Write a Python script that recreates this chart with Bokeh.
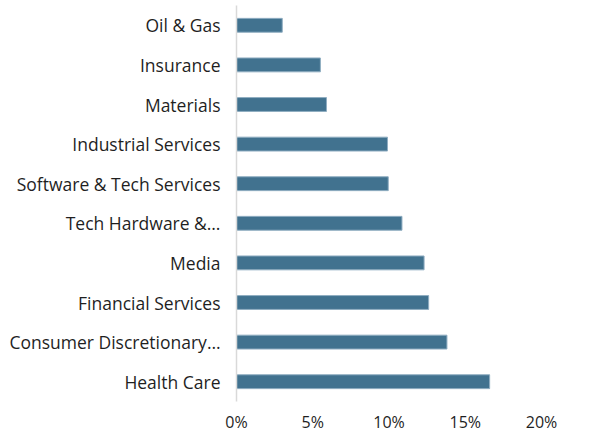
from bokeh.plotting import figure
from bokeh.models import ColumnDataSource, FixedTicker, Range1d
from bokeh.embed import file_html
from bokeh.resources import INLINE

# Data (top to bottom as displayed)
categories = ["Oil & Gas", "Insurance", "Materials", "Industrial Services",
              "Software & Tech Services", "Tech Hardware &\u2026", "Media",
              "Financial Services", "Consumer Discretionary\u2026", "Health Care"]
values = [3.0, 5.5, 5.9, 9.9, 9.95, 10.85, 12.3, 12.6, 13.8, 16.6]
x_ticks = [0, 5, 10, 15, 20]
x_tick_labels = ["0%", "5%", "10%", "15%", "20%"]

n = len(categories)
ypos = [n - 1 - i for i in range(n)]  # Health Care at bottom (0)

src = ColumnDataSource(dict(y=ypos, right=values, cat=categories))

FONT = "Open Sans"
TXT = "#1f1f1f"

p = figure(width=603, height=435, output_backend="svg", toolbar_location=None,
           x_range=Range1d(0, 20), y_range=Range1d(-0.5, 9.5),
           min_border_left=236, min_border_right=62, min_border_top=5,
           min_border_bottom=32, outline_line_color=None)
p.background_fill_color = "white"
p.border_fill_color = "white"

p.hbar(y="y", left=0, right="right", height=0.35, source=src,
       fill_color="#41728F", line_color="#8fadc1", line_width=1)

p.xgrid.visible = False
p.ygrid.visible = False

# x axis
p.xaxis.ticker = FixedTicker(ticks=x_ticks)
p.xaxis.major_label_overrides = {t: l for t, l in zip(x_ticks, x_tick_labels)}
p.xaxis.axis_line_color = None
p.xaxis.major_tick_line_color = None
p.xaxis.minor_tick_line_color = None
p.xaxis.major_tick_out = 0
p.xaxis.major_tick_in = 0
p.xaxis.major_label_text_font = FONT
p.xaxis.major_label_text_font_size = "16px"
p.xaxis.major_label_text_color = TXT
p.xaxis.major_label_standoff = 9

# y axis
p.yaxis.ticker = FixedTicker(ticks=ypos)
p.yaxis.major_label_overrides = {y: c for y, c in zip(ypos, categories)}
p.yaxis.axis_line_color = "#d9d9d9"
p.yaxis.axis_line_width = 1.5
p.yaxis.major_tick_line_color = None
p.yaxis.minor_tick_line_color = None
p.yaxis.major_tick_out = 0
p.yaxis.major_tick_in = 0
p.yaxis.major_label_text_font = FONT
p.yaxis.major_label_text_font_size = "17.5px"
p.yaxis.major_label_text_color = TXT
p.yaxis.major_label_standoff = 16

open("out.html", "w").write(file_html(p, INLINE))
